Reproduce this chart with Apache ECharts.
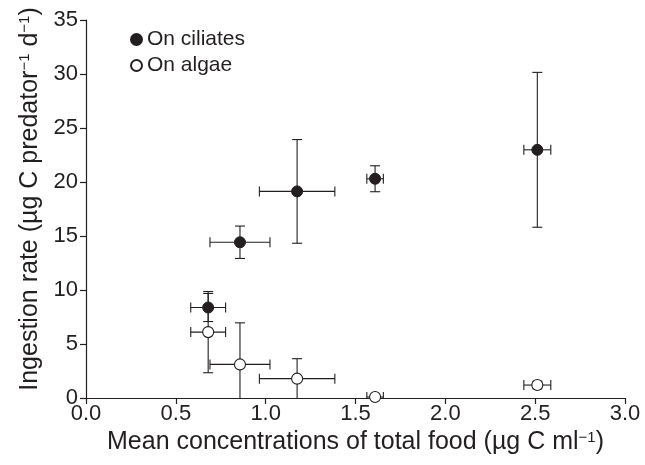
<!DOCTYPE html>
<html>
<head>
<meta charset="utf-8">
<script src="https://cdn.jsdelivr.net/npm/echarts@6/dist/echarts.min.js"></script>
<style>html,body{margin:0;padding:0;background:#fff}#c{width:645px;height:465px}</style>
</head>
<body>
<div id="c"></div>
<script>
// Data
var foodX      = [0.68, 0.857, 1.175, 1.609, 2.512];
var foodXErr   = [0.097, 0.167, 0.21, 0.046, 0.075];
var ciliatesY    = [8.38, 14.42, 19.13, 20.3, 22.98];
var ciliatesYErr = [1.3, 1.5, 4.8, 1.2, 7.17];
var algaeY    = [6.1, 3.11, 1.79, 0.09, 1.2];
var algaeYErr = [3.76, 3.85, 1.85, 0, 0.35];
var xTicks = { min: 0, max: 3, interval: 0.5 };
var yTicks = { min: 0, max: 35, interval: 5 };

var INK = '#231f20';
var FONT = '"Liberation Sans", Arial, sans-serif';

function rows(ys, yerrs) {
  return foodX.map(function (x, i) { return [x, ys[i], foodXErr[i], yerrs[i]]; });
}
function pts(ys) {
  return foodX.map(function (x, i) { return [x, ys[i]]; });
}
function errRender(params, api) {
  var x = api.value(0), y = api.value(1), ex = api.value(2), ey = api.value(3);
  var c = 5;
  var children = [];
  var style = { stroke: INK, lineWidth: 1.1 };
  if (ex > 0) {
    var l = api.coord([x - ex, y]), r = api.coord([x + ex, y]);
    children.push({ type: 'line', shape: { x1: l[0], y1: l[1], x2: r[0], y2: r[1] }, style: style });
    children.push({ type: 'line', shape: { x1: l[0], y1: l[1] - c, x2: l[0], y2: l[1] + c }, style: style });
    children.push({ type: 'line', shape: { x1: r[0], y1: r[1] - c, x2: r[0], y2: r[1] + c }, style: style });
  }
  if (ey > 0) {
    var t = api.coord([x, y + ey]), b = api.coord([x, y - ey]);
    children.push({ type: 'line', shape: { x1: t[0], y1: t[1], x2: b[0], y2: b[1] }, style: style });
    children.push({ type: 'line', shape: { x1: t[0] - c, y1: t[1], x2: t[0] + c, y2: t[1] }, style: style });
    children.push({ type: 'line', shape: { x1: b[0] - c, y1: b[1], x2: b[0] + c, y2: b[1] }, style: style });
  }
  return { type: 'group', children: children };
}

var supStyle = { fontSize: 15, verticalAlign: 'top', padding: [0, 0, 9, 0], color: INK, fontFamily: FONT };

var chart = echarts.init(document.getElementById('c'), null, { renderer: 'canvas' });
chart.setOption({
  animation: false,
  backgroundColor: '#fff',
  textStyle: { fontFamily: FONT, color: INK },
  grid: { left: 86, right: 20, top: 20, bottom: 67 },
  legend: {
    orient: 'vertical', left: 125, top: 24, itemGap: 5,
    itemWidth: 11, itemHeight: 11,
    textStyle: { fontSize: 21, color: INK, fontFamily: FONT },
    data: ['On ciliates', 'On algae']
  },
  xAxis: {
    type: 'value', min: xTicks.min, max: xTicks.max, interval: xTicks.interval,
    name: 'Mean concentrations of total food (µg C ml{s|−1})',
    nameLocation: 'middle', nameGap: 28,
    nameTextStyle: { fontSize: 25, color: INK, fontFamily: FONT, rich: { s: supStyle } },
    axisLine: { lineStyle: { color: INK, width: 1.2 } },
    axisTick: { inside: false, length: 6, lineStyle: { color: INK, width: 1.2 } },
    axisLabel: { fontSize: 22, color: INK, fontFamily: FONT, margin: 5,
      formatter: function (v) { return v.toFixed(1); } },
    splitLine: { show: false }
  },
  yAxis: {
    type: 'value', min: yTicks.min, max: yTicks.max, interval: yTicks.interval,
    name: 'Ingestion rate (µg C predator{s|−1} d{s|−1})',
    nameLocation: 'middle', nameGap: 40, nameRotate: 90,
    nameTextStyle: { fontSize: 25, color: INK, fontFamily: FONT, padding: [0, 0, 0, 20], rich: { s: supStyle } },
    axisLine: { show: true, lineStyle: { color: INK, width: 1.2 } },
    axisTick: { show: true, inside: false, length: 6, lineStyle: { color: INK, width: 1.2 } },
    axisLabel: { fontSize: 22, color: INK, fontFamily: FONT, margin: 8 },
    splitLine: { show: false }
  },
  series: [
    { type: 'custom', name: 'errC', data: rows(ciliatesY, ciliatesYErr), renderItem: errRender, clip: true, z: 1, silent: true,
      encode: { x: 0, y: 1 } },
    { type: 'custom', name: 'errA', data: rows(algaeY, algaeYErr), renderItem: errRender, clip: true, z: 1, silent: true,
      encode: { x: 0, y: 1 } },
    { type: 'scatter', name: 'On ciliates', data: pts(ciliatesY), symbol: 'circle', symbolSize: 11, z: 3,
      itemStyle: { color: INK, borderColor: INK, borderWidth: 1, opacity: 1 } },
    { type: 'scatter', name: 'On algae', data: pts(algaeY), symbol: 'circle', symbolSize: 11, z: 3,
      itemStyle: { color: '#fff', borderColor: INK, borderWidth: 1.1, opacity: 1 } }
  ]
});
</script>
</body>
</html>
